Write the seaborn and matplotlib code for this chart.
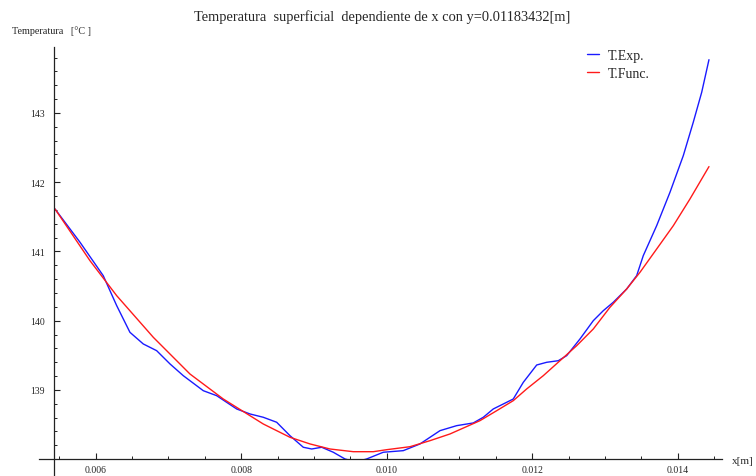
import numpy as np
import pandas as pd
import seaborn as sns
import matplotlib
matplotlib.use("Agg")
import matplotlib.pyplot as plt
from matplotlib.ticker import FixedLocator, FormatStrFormatter
from matplotlib.transforms import Bbox, TransformedBbox

# Experimental surface temperature along x (y fixed)
x_exp = [0.005441, 0.005785, 0.006104, 0.006289, 0.006471, 0.006654, 0.006838,
         0.007022, 0.007204, 0.007479, 0.007663, 0.007938, 0.008121, 0.008304,
         0.008488, 0.008671, 0.008854, 0.008969, 0.009107, 0.009266, 0.009427,
         0.009578, 0.009725, 0.009953, 0.010228, 0.010458, 0.010733, 0.010962,
         0.011190, 0.011328, 0.011465, 0.011603, 0.011740, 0.011878, 0.012062,
         0.012199, 0.012359, 0.012474, 0.012657, 0.012840, 0.012977, 0.013115,
         0.013299, 0.013436, 0.013527, 0.013711, 0.013894, 0.014077, 0.014214,
         0.014330, 0.014430]
t_exp = [141.613, 141.132, 140.650, 140.217, 139.832, 139.664, 139.567,
         139.375, 139.206, 138.989, 138.917, 138.725, 138.653, 138.605,
         138.533, 138.339, 138.172, 138.147, 138.172, 138.100, 138.003,
         137.960, 138.003, 138.100, 138.123, 138.220, 138.412, 138.484,
         138.523, 138.605, 138.725, 138.797, 138.869, 139.110, 139.360,
         139.399, 139.422, 139.495, 139.736, 140.000, 140.144, 140.266,
         140.458, 140.650, 140.939, 141.372, 141.854, 142.383, 142.865,
         143.298, 143.769]

# Fitted temperature function along x
x_fun = [0.005441, 0.005922, 0.006289, 0.006792, 0.007296, 0.007754, 0.008121,
         0.008304, 0.008671, 0.008946, 0.009221, 0.009541, 0.009816, 0.010000,
         0.010320, 0.010595, 0.010870, 0.011282, 0.011512, 0.011740, 0.011924,
         0.012153, 0.012382, 0.012612, 0.012840, 0.013069, 0.013299, 0.013482,
         0.013711, 0.013940, 0.014169, 0.014430]
t_fun = [141.613, 140.866, 140.361, 139.760, 139.230, 138.869, 138.628,
         138.508, 138.316, 138.220, 138.147, 138.108, 138.108, 138.137,
         138.180, 138.267, 138.364, 138.556, 138.700, 138.845, 139.014,
         139.206, 139.422, 139.639, 139.880, 140.193, 140.458, 140.699,
         141.035, 141.372, 141.758, 142.225]

series_names = ["T.Exp.", "T.Func."]
colors = ["#1a1aff", "#ff1a1a"]

df = pd.concat([
    pd.DataFrame({"x": x_exp, "T": t_exp, "serie": series_names[0]}),
    pd.DataFrame({"x": x_fun, "T": t_fun, "serie": series_names[1]}),
], ignore_index=True)

sns.set_style("ticks")
plt.rcParams["font.family"] = ["Liberation Serif", "DejaVu Serif"]

fig = plt.figure(figsize=(7.56, 4.77), dpi=100)
ax = fig.add_axes([39 / 756, 0.0, (721.7 - 39) / 756, (477 - 48.3) / 477])

sns.lineplot(data=df, x="x", y="T", hue="serie", palette=dict(zip(series_names, colors)),
             linewidth=1.0, ax=ax, sort=True, estimator=None)

x_lo, x_hi = 0.005221, 0.014605
y_lo, y_hi = 137.757, 143.948
x_origin, y_origin = 0.00543, 138.0
ax.set_xlim(x_lo, x_hi)
ax.set_ylim(y_lo, y_hi)

# Axes cross at the plot origin, Mathematica-like
for side in ["top", "right"]:
    ax.spines[side].set_visible(False)
ax.spines["left"].set_position(("data", x_origin))
ax.spines["bottom"].set_position(("data", y_origin))
for side in ["left", "bottom"]:
    ax.spines[side].set_linewidth(0.9)
    ax.spines[side].set_color("#222222")

# clip curves at the horizontal axis
clip = TransformedBbox(Bbox([[x_lo, y_origin], [x_hi, y_hi + 1]]), ax.transData)
for ln in ax.lines:
    ln.set_clip_box(clip)

ax.xaxis.set_major_locator(FixedLocator([0.006, 0.008, 0.010, 0.012, 0.014]))
ax.xaxis.set_major_formatter(FormatStrFormatter("%.3f"))
ax.xaxis.set_minor_locator(FixedLocator(np.arange(0.0055, 0.0146, 0.0005)))
ax.yaxis.set_major_locator(FixedLocator([139, 140, 141, 142, 143]))
ax.yaxis.set_minor_locator(FixedLocator(np.arange(138.2, 143.9, 0.2)))

ax.tick_params(axis="both", which="major", direction="in", length=4, width=0.8,
               labelsize=7, color="#222222")
ax.tick_params(axis="both", which="minor", direction="in", length=2.3, width=0.7,
               color="#222222")
ax.tick_params(axis="x", which="major", pad=4)
ax.tick_params(axis="y", which="major", pad=7)
ax.set_xlabel("")
ax.set_ylabel("")

leg = ax.legend(loc="upper left", bbox_to_anchor=(587 / 756, 1 - 50 / 477),
                bbox_transform=fig.transFigure, frameon=False, fontsize=10,
                handlelength=0.85, handletextpad=0.65, labelspacing=0.35,
                borderpad=0, borderaxespad=0, title=None)
for h in leg.get_lines():
    h.set_linewidth(1.0)

fig.text(382 / 756, 1 - 17 / 477,
         "Temperatura  superficial  dependiente de x con y=0.01183432[m]",
         ha="center", va="center", fontsize=10.4)
fig.text(12 / 756, 1 - 31 / 477, "Temperatura   [°C ]", ha="left", va="center",
         fontsize=7.3)
fig.text(732 / 756, 1 - 462 / 477, "x[m]", ha="left", va="center", fontsize=8)

fig.savefig("out.png", dpi=100)
